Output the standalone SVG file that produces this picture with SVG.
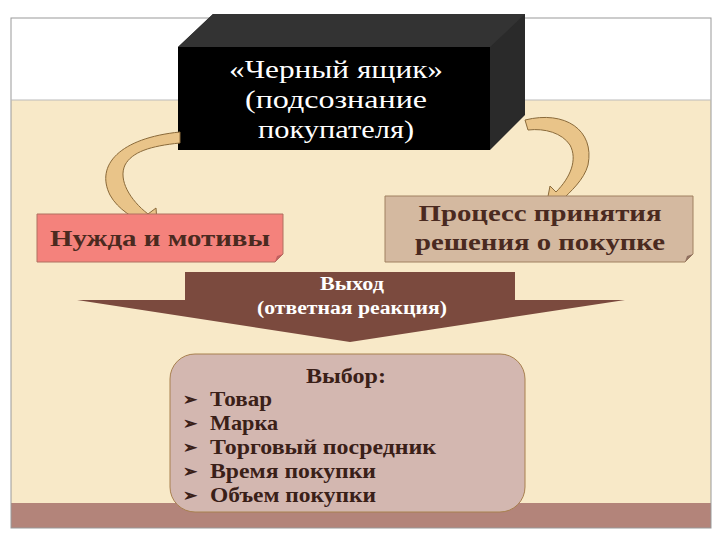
<svg xmlns="http://www.w3.org/2000/svg" width="720" height="540" viewBox="0 0 720 540">
<style>
.s{font-family:"Liberation Serif",serif;font-weight:bold}
.r{font-family:"Liberation Serif",serif}
.arr{fill:#e9c489;stroke:#8a6a3a;stroke-width:1}
</style>
<rect width="720" height="540" fill="#fff"/>
<rect x="11" y="100" width="700" height="403" fill="#f8e9c8"/>
<rect x="11" y="503" width="700" height="25" fill="#b3847a"/>
<rect x="11" y="18" width="700" height="510" fill="none" stroke="#999" stroke-width="1"/>
<line x1="11" y1="100" x2="711" y2="100" stroke="#bbb"/>
<g id="blackbox">
<path d="M178,47 L213,14 H525 V115 L490,150 V47 Z" fill="#2a2a2a"/>
<path d="M178,47 L213,14 H525 L490,47 Z" fill="#333"/>
<rect x="178" y="47" width="312" height="103" fill="#000"/>
<g class="r" font-size="26" fill="#fff" text-anchor="middle">
<text x="336" y="78" textLength="214" lengthAdjust="spacingAndGlyphs">«Черный ящик»</text>
<text x="336" y="108" textLength="182" lengthAdjust="spacingAndGlyphs">(подсознание</text>
<text x="336" y="138" textLength="156" lengthAdjust="spacingAndGlyphs">покупателя)</text>
</g>
</g>
<g id="connectors">
<path class="arr" d="M180,132 C120,138 95,165 110,195 C118,210 135,218 140,222 L132,228 L158,236 L156,208 L148,214 C130,200 118,180 125,165 C132,152 150,146 180,143 Z"/>
<path class="arr" d="M525,120 C565,110 595,130 588,165 C584,180 570,192 562,200 L570,206 L545,212 L550,186 L556,192 C570,178 578,160 570,145 C562,133 545,128 528,130 Z"/>
<g id="output">
<path d="M185,272 H515 V300 H625 L350,342 L77,300 H185 Z" fill="#7b4a3e"/>
<text class="s" x="352" y="290" font-size="18" fill="#fff" text-anchor="middle" textLength="64" lengthAdjust="spacingAndGlyphs">Выход</text>
<text class="s" x="352" y="314" font-size="18" fill="#fff" text-anchor="middle" textLength="190" lengthAdjust="spacingAndGlyphs">(ответная реакция)</text>
</g>
</g>
<g id="needs">
<path d="M37,214 H283 V254 L275,262 H37 Z" fill="#f4827c" stroke="#b07060"/>
<path d="M283,254 L275,262 L277,256 Z" fill="#c06060"/>
<text class="s" x="160" y="246" font-size="24" fill="#4a2a20" text-anchor="middle" textLength="220" lengthAdjust="spacingAndGlyphs">Нужда и мотивы</text>
</g>
<g id="decision">
<path d="M385,196 H693 V254 L685,262 H385 Z" fill="#d4b9a0" stroke="#a08060"/>
<path d="M693,254 L685,262 L687,256 Z" fill="#907060"/>
<text class="s" x="540" y="221" font-size="24" fill="#4a2a20" text-anchor="middle" textLength="243" lengthAdjust="spacingAndGlyphs">Процесс принятия</text>
<text class="s" x="540" y="250" font-size="24" fill="#4a2a20" text-anchor="middle" textLength="250" lengthAdjust="spacingAndGlyphs">решения о покупке</text>
</g>
<g id="choice">
<rect x="170" y="354" width="355" height="158" rx="25" fill="#d3b7b0" stroke="#a8804f"/>
<g class="s" font-size="21" fill="#3a2018">
<text x="346" y="383" text-anchor="middle" textLength="80" lengthAdjust="spacingAndGlyphs">Выбор:</text>
<text x="210" y="406" textLength="62" lengthAdjust="spacingAndGlyphs">Товар</text>
<text x="210" y="430" textLength="68" lengthAdjust="spacingAndGlyphs">Марка</text>
<text x="210" y="454" textLength="226" lengthAdjust="spacingAndGlyphs">Торговый посредник</text>
<text x="210" y="478" textLength="166" lengthAdjust="spacingAndGlyphs">Время покупки</text>
<text x="210" y="502" textLength="166" lengthAdjust="spacingAndGlyphs">Объем покупки</text>
<g font-size="17"><text x="183" y="405">➢</text><text x="183" y="429">➢</text><text x="183" y="453">➢</text><text x="183" y="477">➢</text><text x="183" y="501">➢</text></g>
</g>
</g>
</svg>
